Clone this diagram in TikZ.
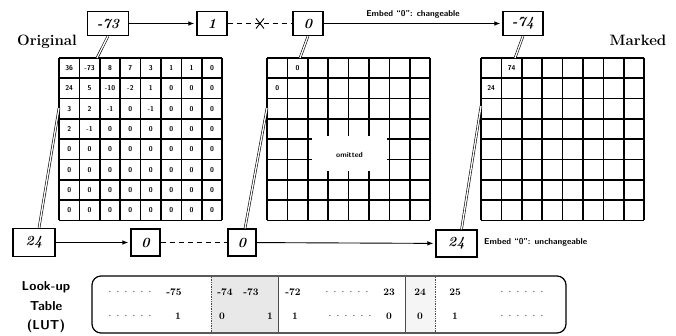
\documentclass[tikz,border=0pt]{standalone}
\usetikzlibrary{arrows.meta}
\newcommand\lutdots{$\cdot$\hspace{5.2pt}$\cdot$\hspace{5.2pt}$\cdot$\hspace{5.2pt}$\cdot$\hspace{5.2pt}$\cdot$\hspace{5.2pt}$\cdot$}
\begin{document}
\begin{tikzpicture}[x=1pt,y=-1pt,
  gl/.style={line width=1.6pt},
  valbox/.style={draw, line width=1.2pt, minimum width=40pt, minimum height=24pt, inner sep=0pt,
    font=\fontsize{14}{14}\selectfont\bfseries\itshape},
  ptr/.style={double, double distance=1.3pt, line width=0.6pt},
  link/.style={line width=0.9pt},
  tipa/.style={-{Latex[length=6pt,width=4.5pt]}, shorten >=2pt},
  dsh/.style={link, dash pattern=on 5pt off 4pt},
  cellnum/.style={font=\fontsize{7}{7}\selectfont\sffamily\bfseries, inner sep=0pt},
  note/.style={font=\fontsize{8.5}{8.5}\selectfont\sffamily\bfseries, inner sep=1pt},
  lut/.style={font=\fontsize{10}{10}\selectfont\bfseries, inner sep=0pt},
  biglabel/.style={font=\fontsize{15}{15}\selectfont\bfseries, inner sep=0pt},
  lutlabel/.style={font=\fontsize{13}{13}\selectfont\sffamily\bfseries, inner sep=0pt}]
\useasboundingbox (0,0) rectangle (676,336);
\fill[white] (0,0) rectangle (676,336);

% ---------- grids ----------
\foreach \gx in {59,267,481}{
  \foreach \k in {0,...,8}{
    \draw[gl] ({\gx+\k*20.4},58) -- ({\gx+\k*20.4},220.4);
    \draw[gl] (\gx,{58+\k*20.3}) -- ({\gx+163.2},{58+\k*20.3});
  }
}
% omitted centre of the middle grid
\fill[white] (312,136) rectangle (387,171);
\node[cellnum, font=\fontsize{7.5}{7.5}\selectfont\sffamily\bfseries] (omit) at (349.5,155) {omitted};

% original values
\foreach \row [count=\i] in {{36,-73,8,7,3,1,1,0},{24,5,-10,-2,1,0,0,0},{3,2,-1,0,-1,0,0,0},{2,-1,0,0,0,0,0,0},{0,0,0,0,0,0,0,0},{0,0,0,0,0,0,0,0},{0,0,0,0,0,0,0,0},{0,0,0,0,0,0,0,0}}{
  \foreach \v [count=\j] in \row {
    \node[cellnum] (o\i\j) at ({59+(\j-0.5)*20.4},{58+(\i-0.5)*20.3}) {\v};
  }
}
\node[cellnum] (m12) at ({267+1.5*20.4},{58+0.5*20.3}) {0};
\node[cellnum] (m21) at ({267+0.5*20.4},{58+1.5*20.3}) {0};
\node[cellnum] (k12) at ({481+1.5*20.4},{58+0.5*20.3}) {74};
\node[cellnum] (k21) at ({481+0.5*20.4},{58+1.5*20.3}) {24};

\node[biglabel] (orig) at (47,42) {Original};
\node[biglabel] (mark) at (638,40) {Marked};

% ---------- value boxes ----------
\node[valbox, minimum width=41pt] (t1) at (108,23.5) {-73};
\node[valbox, minimum width=30pt] (t2) at (212,23.5) {1};
\node[valbox, minimum width=30pt] (t3) at (308,23.5) {0};
\node[valbox, minimum width=40pt] (t4) at (523,23.5) {-74};
\node[valbox, minimum width=42pt, minimum height=28pt] (b1) at (34,242.5) {24};
\node[valbox, minimum width=29pt, minimum height=27pt] (b2) at (145.5,242.5) {0};
\node[valbox, minimum width=28pt, minimum height=27pt] (b3) at (242,242.5) {0};
\node[valbox, minimum width=41pt, minimum height=27pt] (b4) at (456.5,243.5) {24};

% pointers
\coordinate (p1) at (97,58);
\coordinate (p3) at (300,58);
\coordinate (p4) at (515,58);
\coordinate (q1) at (59,108);
\coordinate (q3) at (267,108);
\coordinate (q4) at (481,106);
\draw[ptr] (t1.south) -- (p1);
\draw[ptr] (t3.south) -- (p3);
\draw[ptr] (t4.south) -- (p4);
\draw[ptr] ([xshift=5pt]b1.north) -- (q1);
\draw[ptr] ([xshift=3pt]b3.north) -- (q3);
\draw[ptr] ([xshift=5pt]b4.north) -- (q4);

% links
\draw[link, tipa] (t1) -- (t2);
\draw[dsh] (t2) -- (t3) coordinate[midway] (cross);
\draw[link] ([shift={(-4,-5)}]cross) -- ([shift={(4,5)}]cross);
\draw[link] ([shift={(-4,5)}]cross) -- ([shift={(4,-5)}]cross);
\draw[link, tipa] (t3) -- (t4) node[midway, above=4pt, note] (n1) {Embed ``0'': changeable};
\draw[link, tipa] (b1) -- (b2);
\draw[dsh] (b2) -- (b3);
\draw[link, tipa] (b3) -- (b4);
\node[note, anchor=west] (n2) at (483,242) {Embed ``0'': unchangeable};

% ---------- look-up table ----------
\fill[gray!18] (211,277) rectangle (278,332);
\fill[gray!8] (405,277) rectangle (435,332);
\draw[line width=1.2pt, rounded corners=9pt] (92,276) rectangle (566,333);
\draw[gray!60!black, line width=0.7pt, densely dotted] (211,277) -- (211,332);
\draw[gray!60!black, line width=0.6pt] (278,277) -- (278,332);
\draw[gray!60!black, line width=0.6pt] (405,277) -- (405,332);
\draw[gray!60!black, line width=0.7pt, densely dotted] (435,277) -- (435,332);

\node[lutlabel] (l1) at (46,287) {Look-up};
\node[lutlabel] (l2) at (46,306) {Table};
\node[lutlabel] (l3) at (46,326) {(LUT)};

\foreach \xx/\tt [count=\n] in {130/\lutdots,174/-75,225/-74,251/-73,293/-72,347/\lutdots,389/23,420/24,455/25,522/\lutdots}{
  \node[lut] (r1\n) at (\xx,292) {\tt};
}
\foreach \xx/\tt [count=\n] in {130/\lutdots,178/1,222/0,270/1,295/1,350/\lutdots,389/0,420/0,455/1,522/\lutdots}{
  \node[lut] (r2\n) at (\xx,316) {\tt};
}
\end{tikzpicture}
\end{document}
